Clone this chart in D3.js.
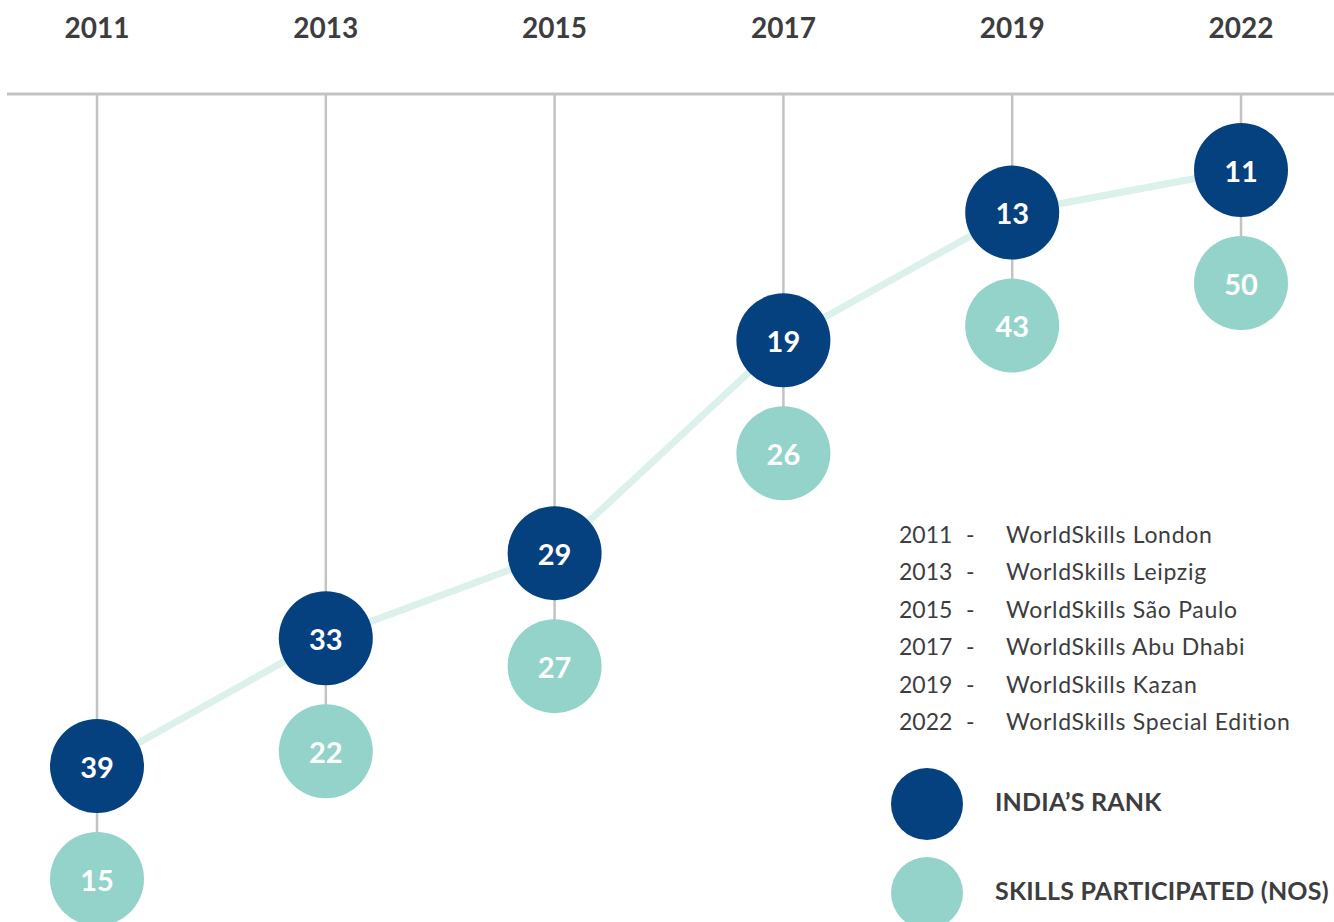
<!DOCTYPE html>
<html>
<head>
<meta charset="utf-8">
<script src="https://cdn.jsdelivr.net/npm/d3@7"></script>
<style>
  body { margin: 0; background: #fff; }
  svg { display: block; font-family: Lato, "Noto Sans", sans-serif; }
</style>
</head>
<body>
<svg id="chart" width="1334" height="922"></svg>
<script>
// data
const years = ['2011', '2013', '2015', '2017', '2019', '2022']
const ranks = [39, 33, 29, 19, 13, 11]
const skills = [15, 22, 27, 26, 43, 50]
const venues = ['WorldSkills London', 'WorldSkills Leipzig', 'WorldSkills São Paulo',
	'WorldSkills Abu Dhabi', 'WorldSkills Kazan', 'WorldSkills Special Edition']
const legendLabels = ['INDIA\u2019S RANK', 'SKILLS PARTICIPATED (NOS)']

const dark = '#06417f'
const teal = '#93d3c9'
const grey = '#c3c3c5'
const ink = '#3d3d3f'

const svg = d3.select('#chart')
const axisY = 94
const r = 47
const drop = 113

let x = d3.scalePoint().domain(years).range([97, 1241])
let y = d3.scaleLinear().domain([11, 39]).range([170, 766])

let rows = years.map((yr, i) => ({year: yr, rank: ranks[i], skill: skills[i]}))

// top axis line
svg.append('line')
	.attr('x1', 7).attr('x2', 1334)
	.attr('y1', axisY).attr('y2', axisY)
	.attr('stroke', grey).attr('stroke-width', 3)

// year labels
svg.append('g').selectAll('text')
	.data(rows).join('text')
	.attr('x', d => x(d.year)).attr('y', 27)
	.attr('text-anchor', 'middle').attr('dominant-baseline', 'central')
	.style('font-size', '28px').style('font-weight', 700)
	.style('fill', ink)
	.text(d => d.year)

// stems
svg.append('g').selectAll('line')
	.data(rows).join('line')
	.attr('x1', d => x(d.year)).attr('x2', d => x(d.year))
	.attr('y1', axisY).attr('y2', d => y(d.rank) + drop)
	.attr('stroke', grey).attr('stroke-width', 2.5)

// connecting line through rank circles
svg.append('path')
	.datum(rows)
	.attr('d', d3.line().x(d => x(d.year)).y(d => y(d.rank)))
	.attr('fill', 'none')
	.attr('stroke', '#dcf1ec').attr('stroke-width', 7)

// skill circles
let sk = svg.append('g').selectAll('g')
	.data(rows).join('g')
	.attr('transform', d => `translate(${x(d.year)},${y(d.rank) + drop})`)
sk.append('circle').attr('r', r).attr('fill', teal)
sk.append('text')
	.attr('text-anchor', 'middle').attr('dominant-baseline', 'central')
	.style('font-size', '29px').style('font-weight', 700).style('fill', '#fff')
	.text(d => d.skill)

// rank circles
let rk = svg.append('g').selectAll('g')
	.data(rows).join('g')
	.attr('transform', d => `translate(${x(d.year)},${y(d.rank)})`)
rk.append('circle').attr('r', r).attr('fill', dark)
rk.append('text')
	.attr('text-anchor', 'middle').attr('dominant-baseline', 'central')
	.style('font-size', '29px').style('font-weight', 700).style('fill', '#fff')
	.text(d => d.rank)

// venue list
let ly = d3.scalePoint().domain(years).range([534, 721])
let vl = svg.append('g').selectAll('g')
	.data(rows).join('g')
	.attr('transform', d => `translate(0,${ly(d.year)})`)
	.style('font-size', '23px').style('fill', ink)
vl.append('text').attr('x', 899).attr('dominant-baseline', 'central').text(d => d.year)
vl.append('text').attr('x', 966).attr('dominant-baseline', 'central').text('-')
vl.append('text').attr('x', 1006).attr('dominant-baseline', 'central')
	.style('letter-spacing', '0.7px')
	.text((d, i) => venues[i])

// legend
let lg = svg.append('g').selectAll('g')
	.data(legendLabels).join('g')
	.attr('transform', (d, i) => `translate(927,${804 + i * 89})`)
lg.append('circle').attr('r', 36).attr('fill', (d, i) => i ? teal : dark)
lg.append('text')
	.attr('x', 68).attr('y', -3)
	.attr('dominant-baseline', 'central')
	.style('font-size', '25px').style('font-weight', 700).style('fill', ink)
	.style('letter-spacing', '0.2px')
	.text(d => d)
</script>
</body>
</html>
